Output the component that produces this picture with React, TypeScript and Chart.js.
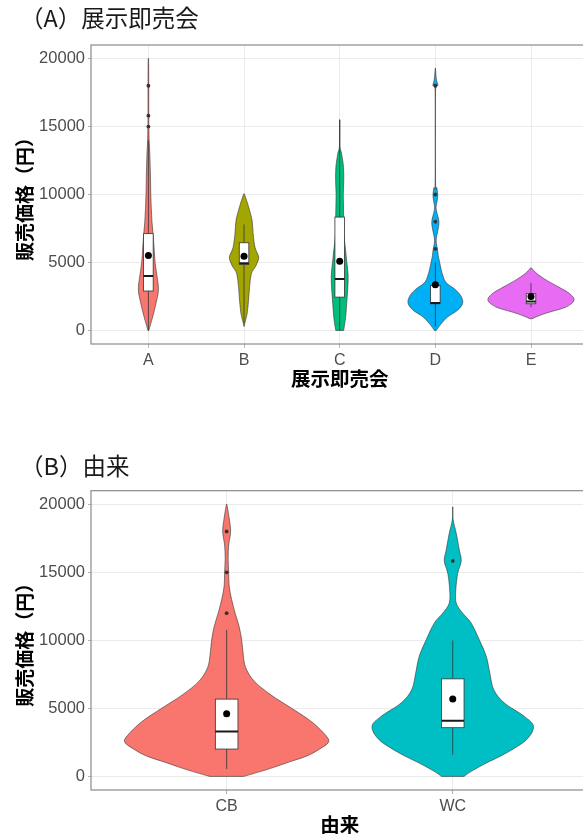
import React, { useEffect, useRef } from "react";
import { Chart, registerables } from "chart.js";
Chart.register(...registerables);

// ---------- shared ----------
const Y_TICKS = [0, 5000, 10000, 15000, 20000];
const Y_TITLE = "販売価格（円）";

// ---------- Panel A: 展示即売会 ----------
const CATS_A = ["A", "B", "C", "D", "E"];
const COLORS_A = ["#F8766D", "#A3A500", "#00BF7D", "#00B0F6", "#E76BF3"];
// violin density profiles: [value, full width in category units]
const VIOLIN_A_A = [[0, 0.01], [500, 0.05], [1000, 0.09], [2000, 0.16], [3000, 0.21], [4000, 0.18], [5000, 0.14], [6000, 0.12], [7000, 0.1], [8000, 0.075], [9000, 0.06], [10000, 0.05], [11000, 0.045], [12000, 0.038], [13000, 0.03], [14000, 0.015], [15000, 0.01], [16000, 0.008], [18000, 0.008], [20000, 0.004]];
const VIOLIN_A_B = [[300, 0.005], [600, 0.02], [1200, 0.0625], [2200, 0.094], [3200, 0.115], [4200, 0.156], [4700, 0.24], [5200, 0.3], [5500, 0.3], [6100, 0.23], [7100, 0.19], [8100, 0.167], [9100, 0.094], [9700, 0.04], [10050, 0.005]];
const VIOLIN_A_C = [[0, 0.083], [1000, 0.125], [2000, 0.146], [3000, 0.167], [4000, 0.177], [5000, 0.15], [6000, 0.12], [7000, 0.09], [8000, 0.085], [9000, 0.08], [10000, 0.075], [11000, 0.085], [12000, 0.08], [13000, 0.04], [13400, 0.01], [14000, 0.004], [15500, 0.004]];
const VIOLIN_A_D = [[0, 0.02], [500, 0.125], [1000, 0.26], [1500, 0.47], [2000, 0.57], [2500, 0.54], [3000, 0.42], [3500, 0.23], [4000, 0.16], [4500, 0.12], [5000, 0.09], [5500, 0.06], [6000, 0.045], [6400, 0.02], [6800, 0.02], [7300, 0.05], [8000, 0.075], [8700, 0.03], [9100, 0.015], [9600, 0.04], [10000, 0.05], [10500, 0.03], [11000, 0.004], [17500, 0.004], [18000, 0.05], [18500, 0.02], [19300, 0.003]];
const VIOLIN_A_E = [[860, 0.02], [1100, 0.18], [1350, 0.39], [1720, 0.73], [2210, 0.9], [2700, 0.81], [3190, 0.58], [3680, 0.33], [4170, 0.125], [4590, 0.01]];
// box: [lower whisker, Q1, median, Q3, upper whisker]
const BOX_A = [
  [0, 2900, 4000, 7120, 14000],
  [500, 4860, 4950, 6450, 7800],
  [0, 2450, 3780, 8340, 15500],
  [300, 1960, 2010, 3310, 5000],
  [1700, 1960, 2130, 2700, 3480],
];
const MEANS_A = [5520, 5450, 5080, 3360, 2500];
// outliers: [category index, value]
const OUTLIERS_A = [[0, 15000], [0, 15800], [0, 18000], [3, 6000], [3, 8000], [3, 10000], [3, 18000]];

// ---------- Panel B: 由来 ----------
const CATS_B = ["CB", "WC"];
const COLORS_B = ["#F8766D", "#00BFC4"];
const VIOLIN_B_CB = [[0, 0.151], [500, 0.355], [1000, 0.532], [1500, 0.709], [2000, 0.82], [2500, 0.9], [3000, 0.878], [4000, 0.754], [5000, 0.576], [6000, 0.39], [7000, 0.244], [8000, 0.168], [9000, 0.146], [10000, 0.133], [11000, 0.111], [12000, 0.075], [13000, 0.044], [14000, 0.022], [15000, 0.018], [16000, 0.013], [17000, 0.018], [18000, 0.035], [19000, 0.022], [20000, 0.002]];
const VIOLIN_B_WC = [[0, 0.1], [370, 0.164], [980, 0.297], [1720, 0.474], [2700, 0.652], [3670, 0.714], [4410, 0.634], [5390, 0.457], [6370, 0.363], [7590, 0.328], [8810, 0.297], [10040, 0.235], [11260, 0.164], [11990, 0.089], [12730, 0.031], [13710, 0.027], [14930, 0.044], [15840, 0.075], [16640, 0.058], [17870, 0.031], [18850, 0.004], [19800, 0.002]];
const BOX_B = [
  [540, 2010, 3300, 5680, 10770],
  [1590, 3580, 4090, 7170, 9990],
];
const MEANS_B = [4600, 5680];
const OUTLIERS_B = [[0, 12000], [0, 15000], [0, 18000], [1, 15840]];

const TICK_FONT = '"Liberation Sans", Arial, sans-serif';
const CJK_FONT = '"Noto Sans CJK JP", sans-serif';

function smoothSide(ctx: CanvasRenderingContext2D, pts: { x: number; y: number }[]) {
  for (let i = 0; i < pts.length - 1; i++) {
    const p0 = pts[i - 1] || pts[i];
    const p1 = pts[i];
    const p2 = pts[i + 1];
    const p3 = pts[i + 2] || p2;
    const c1x = p1.x + (p2.x - p0.x) / 6;
    const c1y = p1.y + (p2.y - p0.y) / 6;
    const c2x = p2.x - (p3.x - p1.x) / 6;
    const c2y = p2.y - (p3.y - p1.y) / 6;
    ctx.bezierCurveTo(c1x, c1y, c2x, c2y, p2.x, p2.y);
  }
}

function violinPlugin(spec: any) {
  return {
    id: "violins",
    beforeDatasetsDraw(chart: any) {
      const { ctx, chartArea } = chart;
      const xs = chart.scales.x;
      const ys = chart.scales.y;
      ctx.save();
      ctx.beginPath();
      ctx.rect(chartArea.left, chartArea.top, chartArea.right - chartArea.left, chartArea.bottom - chartArea.top);
      ctx.clip();
      spec.violins.forEach((prof: number[][], i: number) => {
        const right = prof.map(([v, w]) => ({ x: xs.getPixelForValue(i + w / 2), y: ys.getPixelForValue(v) }));
        const left = prof.map(([v, w]) => ({ x: xs.getPixelForValue(i - w / 2), y: ys.getPixelForValue(v) })).reverse();
        ctx.beginPath();
        ctx.moveTo(left[left.length - 1].x, left[left.length - 1].y);
        ctx.lineTo(right[0].x, right[0].y);
        smoothSide(ctx, right);
        ctx.lineTo(left[0].x, left[0].y);
        smoothSide(ctx, left);
        ctx.closePath();
        ctx.fillStyle = spec.colors[i];
        ctx.fill();
        ctx.strokeStyle = "rgba(50,50,50,0.85)";
        ctx.lineWidth = 0.7;
        ctx.stroke();
      });
      spec.boxes.forEach((b: number[], i: number) => {
        const [lo, q1, med, q3, hi] = b;
        const cx = xs.getPixelForValue(i);
        ctx.strokeStyle = "#333";
        ctx.lineWidth = 0.8;
        ctx.beginPath();
        ctx.moveTo(cx, ys.getPixelForValue(lo));
        ctx.lineTo(cx, ys.getPixelForValue(q1));
        ctx.moveTo(cx, ys.getPixelForValue(q3));
        ctx.lineTo(cx, ys.getPixelForValue(hi));
        ctx.stroke();
        const x0 = xs.getPixelForValue(i - spec.boxWidth / 2);
        const x1 = xs.getPixelForValue(i + spec.boxWidth / 2);
        const yq3 = ys.getPixelForValue(q3);
        const yq1 = ys.getPixelForValue(q1);
        ctx.fillStyle = "#fff";
        ctx.fillRect(x0, yq3, x1 - x0, yq1 - yq3);
        ctx.strokeRect(x0, yq3, x1 - x0, yq1 - yq3);
        ctx.beginPath();
        ctx.lineWidth = 2;
        ctx.strokeStyle = "#1a1a1a";
        const ym = ys.getPixelForValue(med);
        ctx.moveTo(x0, ym);
        ctx.lineTo(x1, ym);
        ctx.stroke();
      });
      ctx.restore();
    },
    afterDraw(chart: any) {
      const { ctx, chartArea } = chart;
      ctx.save();
      ctx.strokeStyle = "#8a8a8a";
      ctx.lineWidth = 1.2;
      ctx.strokeRect(chartArea.left, chartArea.top, chartArea.right - chartArea.left, chartArea.bottom - chartArea.top);
      ctx.font = `23.5px ${CJK_FONT}`;
      ctx.fillStyle = "#1a1a1a";
      ctx.textBaseline = "middle";
      ctx.textAlign = "left";
      ctx.fillText(spec.title, spec.titleX, spec.titleY);
      ctx.restore();
    },
  };
}

function makeConfig(spec: any) {
  const n = spec.cats.length;
  return {
    type: "scatter",
    data: {
      datasets: [
        {
          label: "outliers",
          data: spec.outliers.map(([i, v]: number[]) => ({ x: i, y: v })),
          pointRadius: 1.9,
          pointBackgroundColor: "#333",
          pointBorderWidth: 0,
        },
        {
          label: "mean",
          data: spec.means.map((v: number, i: number) => ({ x: i, y: v })),
          pointRadius: 3.5,
          pointBackgroundColor: "#000",
          pointBorderWidth: 0,
        },
      ],
    },
    options: {
      animation: false,
      responsive: false,
      maintainAspectRatio: false,
      events: [],
      layout: { padding: { top: spec.top, right: spec.padRight, left: 0, bottom: 0 } },
      plugins: { legend: { display: false }, tooltip: { enabled: false }, title: { display: false } },
      scales: {
        x: {
          type: "linear",
          min: -0.6,
          max: n - 0.4,
          afterBuildTicks: (s: any) => {
            s.ticks = spec.cats.map((_: string, i: number) => ({ value: i }));
          },
          afterFit: (s: any) => {
            s.height = spec.xHeight;
          },
          ticks: {
            callback: (v: number) => spec.cats[Math.round(v)],
            font: { family: TICK_FONT, size: 16 },
            color: "#4d4d4d",
            padding: 3,
            maxRotation: 0,
            autoSkip: false,
          },
          grid: { color: "#ebebeb", tickColor: "#b3b3b3", tickLength: 4, lineWidth: 1 },
          border: { display: false },
          title: {
            display: true,
            text: spec.xTitle,
            font: { family: CJK_FONT, size: 19.5, weight: "bold" },
            color: "#000",
            padding: { top: 0, bottom: spec.xTitlePad },
          },
        },
        y: {
          type: "linear",
          min: -1000,
          max: 21000,
          afterBuildTicks: (s: any) => {
            s.ticks = Y_TICKS.map((v) => ({ value: v }));
          },
          afterFit: (s: any) => {
            s.width = 91;
          },
          ticks: {
            callback: (v: number) => String(v),
            font: { family: TICK_FONT, size: 16.5 },
            color: "#4d4d4d",
            padding: 3,
          },
          grid: { color: "#ebebeb", tickColor: "#b3b3b3", tickLength: 3, lineWidth: 1 },
          border: { display: false },
          title: {
            display: true,
            text: Y_TITLE,
            font: { family: CJK_FONT, size: 19, weight: "bold" },
            color: "#000",
            padding: { top: 13.6, bottom: 0 },
          },
        },
      },
    },
    plugins: [violinPlugin(spec)],
  };
}

function ChartCanvas({ spec, width, height, top }: any) {
  const ref = useRef<HTMLCanvasElement | null>(null);
  useEffect(() => {
    if (!ref.current) return;
    const chart = new Chart(ref.current, makeConfig(spec) as any);
    return () => chart.destroy();
  }, []);
  return (
    <canvas
      ref={ref}
      width={width}
      height={height}
      style={{ position: "absolute", left: 0, top, width, height, display: "block" }}
    />
  );
}

const SPEC_A = {
  cats: CATS_A,
  colors: COLORS_A,
  violins: [VIOLIN_A_A, VIOLIN_A_B, VIOLIN_A_C, VIOLIN_A_D, VIOLIN_A_E],
  boxes: BOX_A,
  means: MEANS_A,
  outliers: OUTLIERS_A,
  boxWidth: 0.1,
  title: "（A）展示即売会",
  titleX: 20,
  titleY: 18.5,
  xTitle: "展示即売会",
  top: 45,
  padRight: 11.6,
  xHeight: 56,
  xTitlePad: 9.3,
};

const SPEC_B = {
  cats: CATS_B,
  colors: COLORS_B,
  violins: [VIOLIN_B_CB, VIOLIN_B_WC],
  boxes: BOX_B,
  means: MEANS_B,
  outliers: OUTLIERS_B,
  boxWidth: 0.1,
  title: "（B）由来",
  titleX: 20,
  titleY: 66.5,
  xTitle: "由来",
  top: 90.7,
  padRight: 11.6,
  xHeight: 46,
  xTitlePad: 0,
};

export default function App() {
  return (
    <div
      style={{
        position: "absolute",
        left: 0,
        top: 0,
        width: 583,
        height: 834,
        overflow: "hidden",
        background: "#fff",
      }}
    >
      <ChartCanvas spec={SPEC_A} width={600} height={400} top={0} />
      <ChartCanvas spec={SPEC_B} width={600} height={436} top={400} />
    </div>
  );
}
